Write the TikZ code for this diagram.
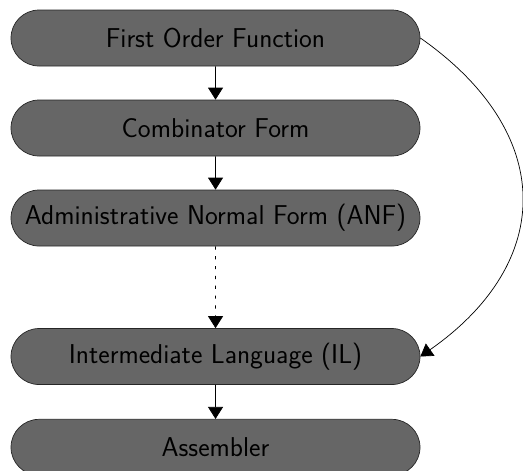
\documentclass[tikz,border=0pt]{standalone}
\usepackage{tikz}
\usetikzlibrary{shapes.misc,arrows.meta}

\begin{document}
\begin{tikzpicture}[>={Triangle[width=0.3cm,length=0.24cm]},
  stage/.style={rounded rectangle,draw=black!85,fill=black!60,
    minimum width=8.18cm,minimum height=1.12cm,inner sep=0pt,
    font=\sffamily\fontsize{15.5}{18}\selectfont}]
\useasboundingbox (0,0) rectangle (10.46,-9.4);
\node[stage] (fof) at (4.31,-0.76) {First Order Function};
\node[stage] (comb) at (4.31,-2.56) {Combinator Form};
\node[stage] (anf) at (4.31,-4.36) {Administrative Normal Form (ANF)};
\node[stage] (il) at (4.31,-7.13) {Intermediate Language (IL)};
\node[stage] (asm) at (4.31,-8.946) {Assembler};
\draw[->] (fof)--(comb);
\draw[->] (comb)--(anf);
\draw[->,dash pattern=on 1.8pt off 3.8pt] (anf)--(il);
\draw[->] (il)--(asm);
\draw[->] (fof.east) to[out=-35,in=35,looseness=1.33] (il.east);
\end{tikzpicture}
\end{document}
